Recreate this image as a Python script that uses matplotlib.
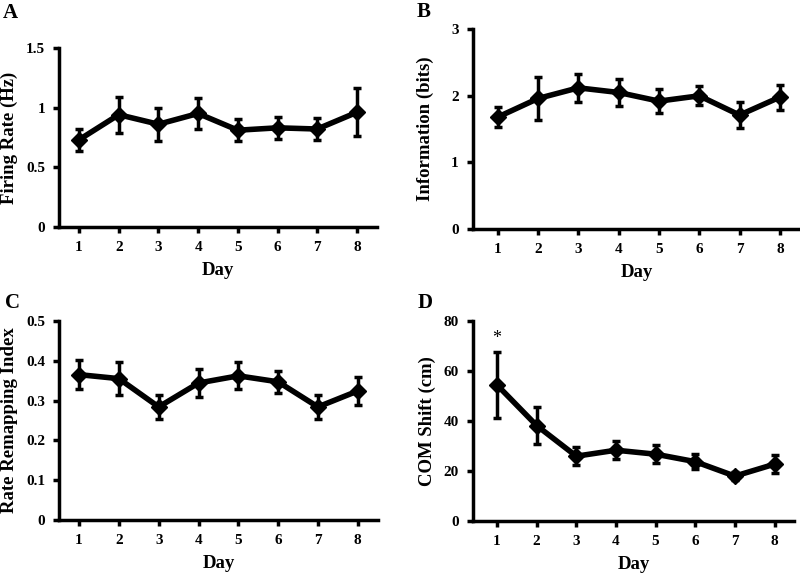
import matplotlib
matplotlib.use("Agg")
import matplotlib.pyplot as plt

days = [1, 2, 3, 4, 5, 6, 7, 8]

firing_rate = [0.73, 0.94, 0.86, 0.95, 0.81, 0.83, 0.82, 0.96]
firing_err = [0.09, 0.15, 0.14, 0.13, 0.09, 0.09, 0.09, 0.20]

information = [1.68, 1.96, 2.12, 2.05, 1.92, 2.00, 1.71, 1.98]
information_err = [0.15, 0.33, 0.21, 0.21, 0.18, 0.145, 0.20, 0.19]

remap = [0.365, 0.355, 0.284, 0.344, 0.362, 0.347, 0.284, 0.324]
remap_err = [0.036, 0.042, 0.031, 0.036, 0.034, 0.027, 0.031, 0.036]

com_shift = [54.5, 38.2, 25.9, 28.3, 26.7, 23.7, 17.9, 22.7]
com_err = [13.2, 7.6, 3.6, 3.7, 3.5, 3.0, 1.7, 3.5]

plt.rcParams['font.family'] = ['Liberation Serif', 'DejaVu Serif']
plt.rcParams['font.weight'] = 'bold'

fig = plt.figure(figsize=(8, 5.76), dpi=100)

panels = [
    dict(rect=[0.074, 0.606, 0.397, 0.311], y=firing_rate, e=firing_err,
         ylim=(0, 1.5), yticks=[0, 0.5, 1, 1.5], ylabels=['0', '0.5', '1', '1.5'],
         ylabel='Firing Rate (Hz)', xlim=(0.5, 8.5), letter='A', lpos=(0.004, 0.995),
         labx=-0.156),
    dict(rect=[0.591, 0.603, 0.409, 0.346], y=information, e=information_err,
         ylim=(0, 3), yticks=[0, 1, 2, 3], ylabels=['0', '1', '2', '3'],
         ylabel='Information (bits)', xlim=(0.38, 8.5), letter='B', lpos=(0.521, 0.997),
         labx=-0.144),
    dict(rect=[0.074, 0.097, 0.398, 0.346], y=remap, e=remap_err,
         ylim=(0, 0.5), yticks=[0, 0.1, 0.2, 0.3, 0.4, 0.5],
         ylabels=['0', '0.1', '0.2', '0.3', '0.4', '0.5'],
         ylabel='Rate Remapping Index', xlim=(0.5, 8.5), letter='C', lpos=(0.006, 0.492),
         labx=-0.157),
    dict(rect=[0.591, 0.096, 0.402, 0.346], y=com_shift, e=com_err,
         ylim=(0, 80), yticks=[0, 20, 40, 60, 80], ylabels=['0', '20', '40', '60', '80'],
         ylabel='COM Shift (cm)', xlim=(0.39, 8.5), letter='D', lpos=(0.522, 0.492),
         labx=-0.141),
]

for p in panels:
    ax = fig.add_axes(p['rect'])
    ax.errorbar(days, p['y'], yerr=p['e'], color='black', lw=4, marker='D',
                ms=8.5, elinewidth=2.5, capsize=3, capthick=2.5, zorder=3)
    ax.set_ylim(*p['ylim'])
    ax.set_xlim(*p['xlim'])
    ax.set_yticks(p['yticks'])
    ax.set_yticklabels(p['ylabels'])
    ax.set_xticks(days)
    ax.set_xticklabels([str(d) for d in days])
    for s in ['top', 'right']:
        ax.spines[s].set_visible(False)
    for s in ['left', 'bottom']:
        ax.spines[s].set_linewidth(2.5)
    ax.tick_params(direction='out', length=4, width=2.5, labelsize=11, pad=6)
    for lbl in ax.get_xticklabels() + ax.get_yticklabels():
        lbl.set_fontweight('bold')
    ax.set_ylabel(p['ylabel'], fontsize=13.5, fontweight='bold', va='center')
    ax.yaxis.set_label_coords(p['labx'], 0.5)
    ax.set_xlabel('Day', fontsize=13.5, fontweight='bold', labelpad=6)
    fig.text(p['lpos'][0], p['lpos'][1], p['letter'], fontsize=15,
             fontweight='bold', va='top', ha='left')
    if p['letter'] == 'D':
        ax.text(1, 73, '*', ha='center', va='center', fontsize=13, fontweight='normal')

fig.savefig('out.png', dpi=100)
